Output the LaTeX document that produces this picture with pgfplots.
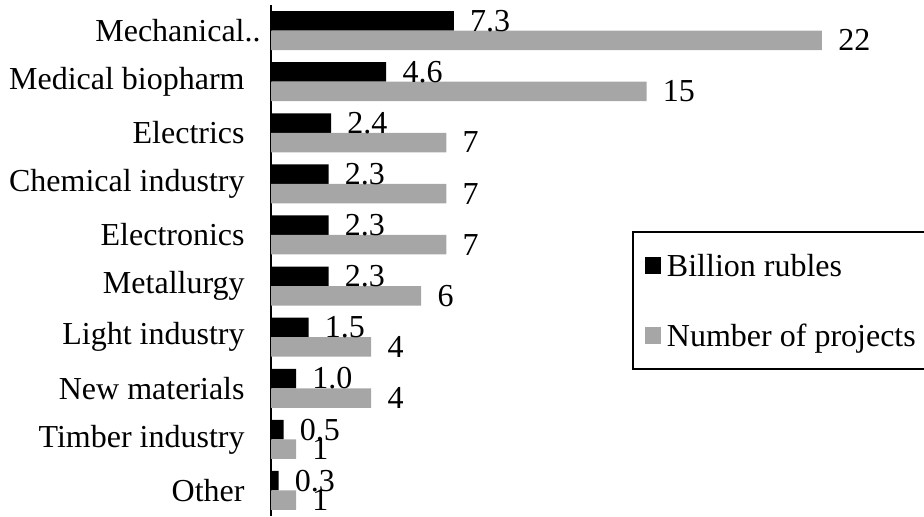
\documentclass[border=0pt]{standalone}
\usepackage{pgfplots}
\pgfplotsset{compat=1.18}
\usepackage{fontspec}
\setmainfont{Liberation Serif}
\definecolor{barblack}{HTML}{000000}
\definecolor{bargray}{HTML}{A6A6A6}
\begin{document}
\begin{tikzpicture}
\useasboundingbox (0,0) rectangle (462pt,258pt);
\clip (0,0) rectangle (462pt,258pt);
\begin{axis}[
  at={(135.5pt,0pt)}, anchor=south west,
  scale only axis, width=325.5pt, height=255.5pt,
  xmin=0, xmax=26, ymin=-0.5, ymax=9.5,
  axis x line=none, axis y line*=left,
  y axis line style={black, line width=1pt, -},
  ytick={0,...,9},
  yticklabels={Other,Timber industry,New materials,Light industry,Metallurgy,Electronics,Chemical industry,Electrics,Medical biopharm,Mechanical\rlap{..}},
  major tick length=0pt,
  yticklabel style={font=\fontsize{16}{19}\selectfont, inner sep=0pt, anchor=east, xshift=-13pt},
  xbar, bar width=9.75pt,
  clip=false,
  /pgf/number format/assume math mode=true,
  nodes near coords style={font=\fontsize{16}{19}\selectfont, anchor=west, inner sep=0pt, xshift=8pt},
  legend style={at={(0.5545,0.5577)}, anchor=north west, draw=black, line width=1pt,
    font=\fontsize{16}{19}\selectfont, inner xsep=6pt, inner ysep=11pt, row sep=24pt,
    nodes={inner sep=0pt, text depth=0pt}},
  legend image code/.code={\fill[#1, draw=none] (0pt,-4.25pt) rectangle (8pt,4.25pt);},
  legend cell align=left,
]
\addplot[fill=barblack, draw=none, bar shift=4.875pt,
  nodes near coords={\pgfmathprintnumber[fixed,fixed zerofill,precision=1]{\pgfplotspointmeta}}]
  coordinates {(0.3,0) (0.5,1) (1.0,2) (1.5,3) (2.3,4) (2.3,5) (2.3,6) (2.4,7) (4.6,8) (7.3,9)};
\addlegendentry{\hspace{3pt}Billion rubles}
\addplot[fill=bargray, draw=none, bar shift=-4.875pt,
  nodes near coords={\pgfmathprintnumber[fixed,precision=0]{\pgfplotspointmeta}}]
  coordinates {(1,0) (1,1) (4,2) (4,3) (6,4) (7,5) (7,6) (7,7) (15,8) (22,9)};
\addlegendentry{\hspace{3pt}Number of projects\hspace{8pt}}
\end{axis}
\end{tikzpicture}
\end{document}
